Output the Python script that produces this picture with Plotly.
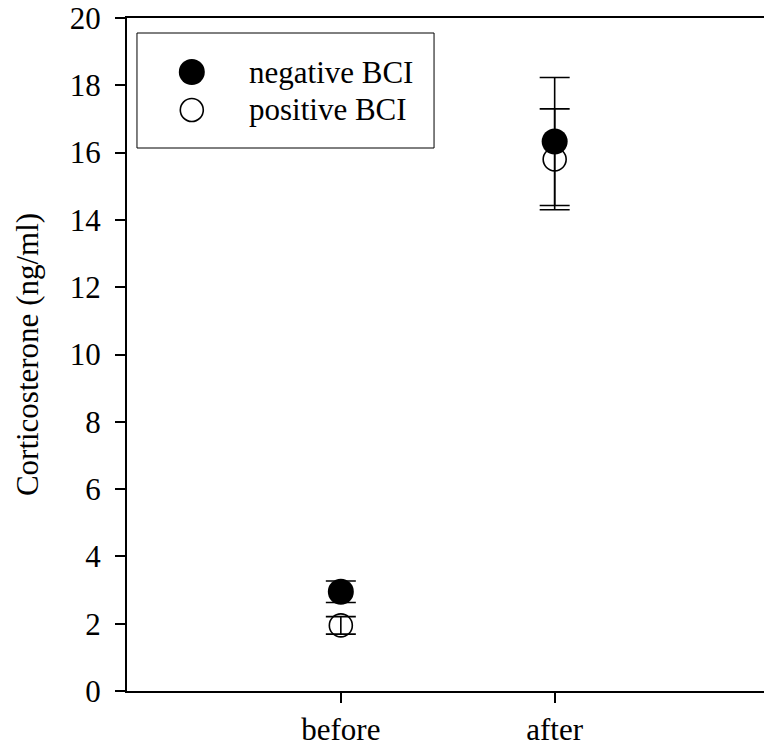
import plotly.graph_objects as go

categories = ["before", "after"]
cat_pos = [1, 2]
neg_mean = [2.95, 16.33]
neg_err = [0.32, 1.9]
pos_mean = [1.95, 15.8]
pos_err = [0.26, 1.5]
y_ticks = [0, 2, 4, 6, 8, 10, 12, 14, 16, 18, 20]
legend_labels = ["negative BCI", "positive BCI"]

FONT = "Liberation Serif, Times New Roman, serif"
FS = 31

W, H = 772, 750
L, R, T, B = 127, 0, 18, 59
PW, PH = W - L - R, H - T - B
CAT_STEP = 214.5


def px_x(px):
    return (px - L) / PW


def px_y(py):
    return (H - B - py) / PH


fig = go.Figure()
fig.add_trace(go.Scatter(
    x=cat_pos, y=pos_mean, mode="markers", name=legend_labels[1],
    marker=dict(symbol="circle-open", size=23, color="black", line=dict(width=1.6, color="black")),
    error_y=dict(type="data", array=pos_err, visible=True, color="black", thickness=1.6, width=15),
    showlegend=False,
))
fig.add_trace(go.Scatter(
    x=cat_pos, y=neg_mean, mode="markers", name=legend_labels[0],
    marker=dict(symbol="circle", size=26, color="black", line=dict(width=0)),
    error_y=dict(type="data", array=neg_err, visible=True, color="black", thickness=1.6, width=15),
    showlegend=False,
))

# manual legend
shapes = [dict(type="rect", xref="paper", yref="paper",
               x0=px_x(137), x1=px_x(435), y0=px_y(148), y1=px_y(33),
               line=dict(color="black", width=1), fillcolor="white", layer="above")]
rows = [72, 110]
for i, lab in enumerate(legend_labels):
    filled = i == 0
    r = 13 if filled else 11.5
    shapes.append(dict(
        type="circle", xref="paper", yref="paper",
        xsizemode="pixel", ysizemode="pixel",
        xanchor=px_x(192), yanchor=px_y(rows[i]),
        x0=-r, x1=r, y0=-r, y1=r,
        line=dict(color="black", width=0 if filled else 1.6),
        fillcolor="black" if filled else "white", layer="above",
    ))
annotations = [dict(text=lab, xref="paper", yref="paper", x=px_x(247), y=px_y(rows[i]),
                    xanchor="left", yanchor="middle", showarrow=False,
                    font=dict(family=FONT, size=FS, color="black"))
               for i, lab in enumerate(legend_labels)]

fig.update_layout(
    width=W, height=H,
    margin=dict(l=L, r=R, t=T, b=B, pad=0),
    paper_bgcolor="white", plot_bgcolor="white",
    font=dict(family=FONT, size=FS, color="black"),
    showlegend=False,
    shapes=shapes,
    annotations=annotations,
    xaxis=dict(
        range=[0, PW / CAT_STEP], tickvals=cat_pos, ticktext=categories,
        showline=True, linecolor="black", linewidth=2, mirror=True,
        ticks="outside", ticklen=10, tickwidth=1.5, tickcolor="black",
        showgrid=False, zeroline=False,
        tickfont=dict(family=FONT, size=FS),
    ),
    yaxis=dict(
        range=[0, 20], tickvals=y_ticks,
        showline=True, linecolor="black", linewidth=2, mirror=True,
        ticks="outside", ticklen=10, tickwidth=1.5, tickcolor="black",
        showgrid=False, zeroline=False,
        tickfont=dict(family=FONT, size=FS),
        ticklabelstandoff=8,
        title=dict(text="Corticosterone (ng/ml)", font=dict(family=FONT, size=FS), standoff=22),
    ),
)

fig.write_html("out.html", config={"displayModeBar": False},
               post_script="document.documentElement.style.overflow='hidden';document.body.style.margin='0';document.body.style.overflow='hidden';")
